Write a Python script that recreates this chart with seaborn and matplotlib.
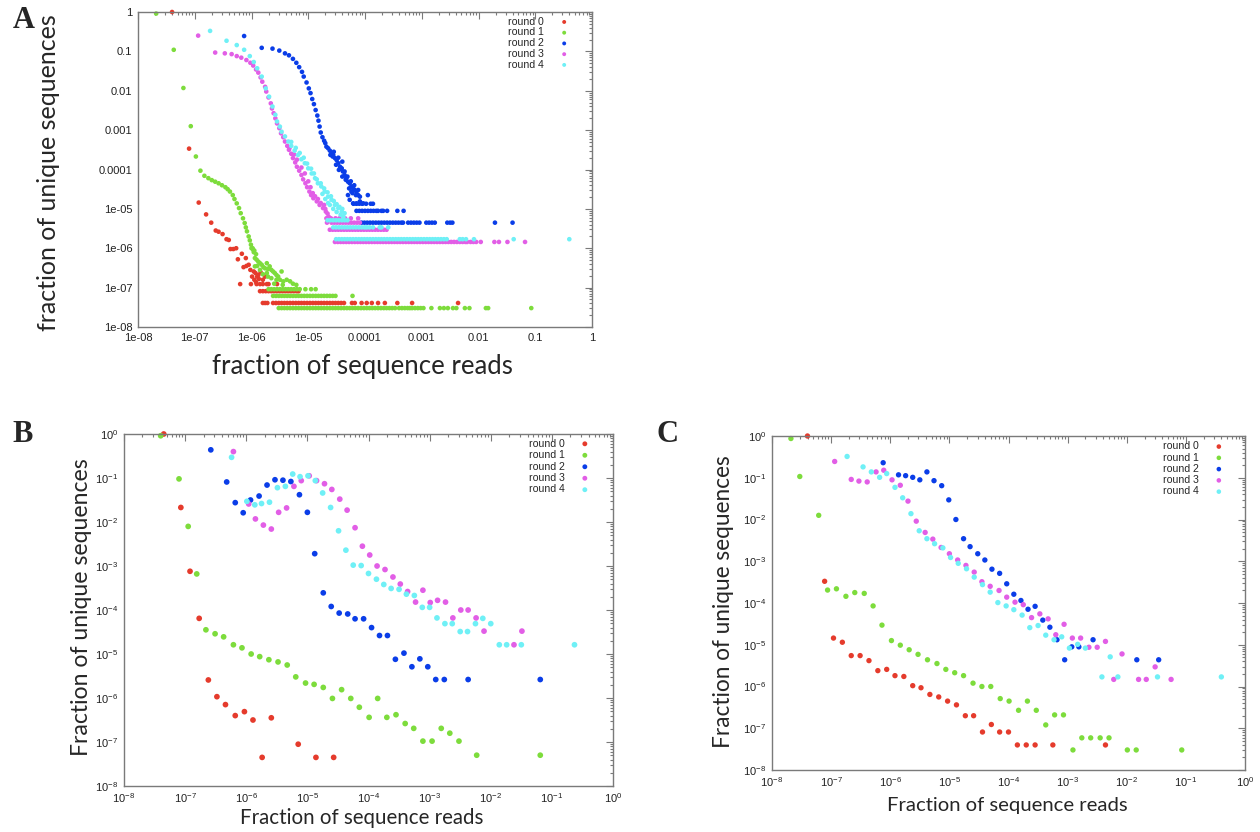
import numpy as np
import pandas as pd
import matplotlib
matplotlib.use("Agg")
import matplotlib.pyplot as plt
import seaborn as sns
from matplotlib.ticker import LogLocator, NullFormatter, FixedLocator

# ---------------------------------------------------------------- data
# all values are log10 of the plotted quantity
ROUNDS = ["round 0", "round 1", "round 2", "round 3", "round 4"]
COLORS = ["#e53b2c", "#7ddc3c", "#0a3de8", "#e25ee6", "#6ff0f6"]

A_XTICK_LABELS = ["1e-08", "1e-07", "1e-06", "1e-05", "0.0001", "0.001", "0.01", "0.1", "1"]
BC_TICK_LABELS = [r"$10^{-8}$", r"$10^{-7}$", r"$10^{-6}$", r"$10^{-5}$", r"$10^{-4}$",
                  r"$10^{-3}$", r"$10^{-2}$", r"$10^{-1}$", r"$10^{0}$"]
TICK_EXPONENTS = [-8, -7, -6, -5, -4, -3, -2, -1, 0]

# ---- panel A (isolated points as (log x, log y); horizontal rows as (log y, [log x ...]))
A_ROUND0_PTS = [(-7.40, 0.00), (-7.10, -3.47), (-6.93, -4.84), (-6.80, -5.14), (-6.71, -5.35),
                (-6.63, -5.55), (-6.58, -5.58), (-6.51, -5.64), (-6.44, -5.77), (-6.40, -5.79),
                (-6.37, -6.02), (-6.32, -6.02), (-6.27, -6.00), (-6.24, -6.28), (-6.17, -6.14),
                (-6.14, -6.48), (-6.10, -6.25), (-6.09, -6.45), (-6.05, -6.42), (-6.02, -6.55),
                (-5.99, -6.72), (-5.96, -6.59), (-5.95, -6.80), (-5.93, -6.63), (-5.92, -6.86),
                (-5.90, -6.72), (-5.88, -6.68), (-5.87, -6.78), (-5.84, -6.61), (-5.80, -6.80),
                (-5.76, -6.72)]
A_ROUND0_ROWS = [
    (-7.39, [-5.80, -5.76, -5.72, -5.62, -5.57, -5.52, -5.47, -5.42, -5.37, -5.32, -5.27, -5.22,
             -5.17, -5.12, -5.07, -5.02, -4.97, -4.92, -4.87, -4.82, -4.77, -4.72, -4.67, -4.62,
             -4.57, -4.52, -4.47, -4.42, -4.37, -4.23, -4.18, -4.06, -3.97, -3.88, -3.77, -3.65,
             -3.43, -3.17, -2.36]),
    (-7.09, [-5.85, -5.80, -5.75, -5.70, -5.65, -5.60, -5.55, -5.50, -5.45, -5.40, -5.35, -5.30,
             -5.25, -5.20, -5.17]),
    (-6.91, [-6.20, -6.01, -5.91, -5.85, -5.80, -5.73, -5.70, -5.55]),
]

A_ROUND1_PTS = [(-7.68, -0.04), (-7.37, -0.96), (-7.20, -1.93), (-7.07, -2.90), (-6.98, -3.67),
                (-6.90, -4.03), (-6.83, -4.16), (-6.76, -4.22), (-6.70, -4.27), (-6.64, -4.31),
                (-6.58, -4.35), (-6.52, -4.40), (-6.46, -4.45), (-6.42, -4.50), (-6.38, -4.56),
                (-6.33, -4.65), (-6.30, -4.75), (-6.26, -4.86), (-6.22, -4.98), (-6.19, -5.11),
                (-6.15, -5.24), (-6.12, -5.36), (-6.10, -5.47), (-6.08, -5.57), (-6.05, -5.70),
                (-6.03, -5.80), (-6.01, -5.91), (-5.98, -6.00), (-5.95, -6.06), (-6.00, -6.00),
                (-5.97, -6.04), (-5.94, -6.25), (-5.91, -6.29), (-5.88, -6.34), (-5.85, -6.38),
                (-5.94, -6.46), (-5.82, -6.42), (-5.79, -6.48), (-5.76, -6.51), (-5.73, -6.38),
                (-5.71, -6.53), (-5.68, -6.46), (-5.65, -6.55), (-5.62, -6.59), (-5.59, -6.63),
                (-5.56, -6.68), (-5.71, -6.72), (-5.65, -6.76), (-5.53, -6.72), (-5.50, -6.80),
                (-5.47, -6.59), (-5.44, -6.84), (-5.38, -6.80), (-5.32, -6.84), (-5.27, -6.90),
                (-5.21, -6.93), (-5.73, -6.63), (-5.56, -6.80), (-5.85, -6.55), (-5.80, -6.66),
                (-5.90, -6.45), (-5.60, -6.90), (-5.45, -6.93), (-5.96, -6.10), (-5.92, -6.15)]
A_ROUND1_ROWS = [
    (-7.04, [-5.70, -5.65, -5.60, -5.55, -5.50, -5.45, -5.40, -5.35, -5.30, -5.25, -5.20, -5.15,
             -5.05, -4.95, -4.87]),
    (-7.21, [-5.62, -5.57, -5.52, -5.47, -5.42, -5.37, -5.32, -5.27, -5.22, -5.17, -5.12, -5.07,
             -5.02, -4.97, -4.92, -4.87, -4.82, -4.77, -4.72, -4.67, -4.62, -4.57, -4.52, -4.22]),
    (-7.52, [-5.52, -5.47, -5.42, -5.37, -5.32, -5.27, -5.22, -5.17, -5.12, -5.07, -5.02, -4.97,
             -4.92, -4.87, -4.82, -4.77, -4.72, -4.67, -4.62, -4.57, -4.52, -4.47, -4.42, -4.37,
             -4.32, -4.27, -4.22, -4.17, -4.12, -4.07, -4.02, -3.97, -3.92, -3.87, -3.82, -3.77,
             -3.72, -3.67, -3.62, -3.57, -3.52, -3.47, -3.40, -3.35, -3.30, -3.25, -3.21, -3.17,
             -3.12, -3.07, -3.02, -2.97, -2.83, -2.68, -2.61, -2.54, -2.45, -2.39, -2.24, -2.16,
             -1.87, -1.83, -1.07]),
]

A_ROUND2_PTS = [(-6.13, -0.61), (-5.82, -0.91), (-5.63, -0.93), (-5.51, -0.98), (-5.41, -1.05),
                (-5.34, -1.10), (-5.27, -1.19), (-5.21, -1.29), (-5.16, -1.40), (-5.11, -1.52),
                (-5.08, -1.64), (-5.03, -1.79), (-4.99, -1.94), (-4.96, -2.06), (-4.93, -2.21),
                (-4.90, -2.34), (-4.87, -2.49), (-4.84, -2.63), (-4.82, -2.76), (-4.80, -2.91),
                (-4.78, -3.06), (-4.75, -3.18), (-4.72, -3.27), (-4.70, -3.33), (-4.68, -3.42),
                (-4.65, -3.46), (-4.62, -3.52), (-4.59, -3.59), (-4.61, -3.63), (-4.56, -3.63),
                (-4.53, -3.71), (-4.57, -3.67), (-4.50, -3.76), (-4.47, -3.84), (-4.51, -3.88),
                (-4.44, -3.93), (-4.41, -3.97), (-4.46, -4.01), (-4.39, -4.05), (-4.36, -4.14),
                (-4.40, -4.18), (-4.33, -4.22), (-4.30, -4.31), (-4.34, -4.26), (-4.27, -4.35),
                (-4.24, -4.43), (-4.28, -4.48), (-4.21, -4.48), (-4.18, -4.52), (-4.22, -4.60),
                (-4.15, -4.56), (-4.12, -4.65), (-4.09, -4.69), (-4.16, -4.65), (-3.95, -4.65),
                (-4.30, -4.65), (-4.27, -4.77), (-4.21, -4.86), (-4.15, -4.86), (-4.09, -4.81),
                (-4.03, -4.86), (-3.86, -4.87), (-4.36, -4.05), (-4.31, -4.18), (-4.25, -4.30),
                (-4.40, -3.80), (-4.47, -3.70), (-4.55, -3.55), (-4.24, -4.56), (-4.19, -4.40),
                (-4.12, -4.52)]
A_ROUND2_ROWS = [
    (-5.05, [-4.15, -4.10, -4.05, -4.00, -3.95, -3.90, -3.85, -3.80, -3.77, -3.71, -3.68, -3.61,
             -3.43, -3.32]),
    (-5.35, [-4.06, -4.01, -3.96, -3.91, -3.86, -3.81, -3.76, -3.71, -3.66, -3.61, -3.56, -3.51,
             -3.46, -3.41, -3.36, -3.33, -3.24, -3.19, -3.14, -3.09, -3.04, -2.92, -2.87, -2.82,
             -2.77, -2.55, -2.50, -2.46, -1.71, -1.40]),
    (-4.87, [-4.20, -4.15, -4.10, -4.05, -3.98, -3.90]),
]

A_ROUND3_PTS = [(-6.94, -0.60), (-6.64, -1.03), (-6.47, -1.05), (-6.35, -1.07), (-6.26, -1.12),
                (-6.18, -1.16), (-6.09, -1.22), (-6.02, -1.29), (-5.97, -1.36), (-5.92, -1.46),
                (-5.88, -1.54), (-5.84, -1.66), (-5.81, -1.77), (-5.76, -1.90), (-5.74, -2.02),
                (-5.70, -2.17), (-5.66, -2.32), (-5.64, -2.45), (-5.61, -2.57), (-5.58, -2.70),
                (-5.55, -2.83), (-5.51, -2.95), (-5.48, -3.08), (-5.44, -3.18), (-5.41, -3.29),
                (-5.37, -3.40), (-5.34, -3.50), (-5.30, -3.60), (-5.27, -3.71), (-5.23, -3.82),
                (-5.20, -3.93), (-5.16, -4.03), (-5.12, -4.14), (-5.09, -4.25), (-5.05, -4.35),
                (-5.02, -4.45), (-4.98, -4.56), (-4.95, -4.65), (-4.91, -4.73), (-4.85, -4.81),
                (-4.80, -4.90), (-4.74, -4.98), (-4.69, -5.07), (-5.33, -3.45), (-5.25, -3.62),
                (-5.20, -3.75), (-5.12, -3.95), (-5.06, -4.10), (-5.00, -4.30), (-4.96, -4.45),
                (-4.92, -4.60), (-4.88, -4.68), (-4.83, -4.75), (-4.78, -4.85), (-4.72, -4.90),
                (-4.70, -5.00), (-4.66, -5.12), (-4.64, -5.20), (-4.67, -5.35)]
A_ROUND3_ROWS = [
    (-5.84, [-4.53, -4.48, -4.43, -4.38, -4.33, -4.28, -4.23, -4.18, -4.13, -4.08, -4.03, -3.98,
             -3.93, -3.88, -3.83, -3.78, -3.73, -3.68, -3.63, -3.58, -3.53, -3.48, -3.43, -3.38,
             -3.33, -3.28, -3.23, -3.18, -3.13, -3.08, -3.03, -2.98, -2.93, -2.88, -2.83, -2.78,
             -2.73, -2.68, -2.63, -2.58, -2.53, -2.48, -2.43, -2.38, -2.33, -2.28, -2.23, -2.20,
             -2.14, -2.09, -2.04, -1.96, -1.72, -1.64, -1.49, -1.18]),
    (-5.53, [-4.62, -4.57, -4.52, -4.47, -4.42, -4.37, -4.32, -4.27, -4.22, -4.17, -4.12, -4.07,
             -4.02, -3.97, -3.92, -3.87, -3.82, -3.77, -3.72, -3.67, -3.62]),
    (-5.35, [-4.59, -4.54, -4.49, -4.44, -4.39, -4.34, -4.29, -4.24, -4.19, -4.14, -4.09]),
    (-5.24, [-4.68, -4.60, -4.52, -4.45, -4.35, -4.25, -4.12]),
]

A_ROUND4_PTS = [(-6.73, -0.48), (-6.44, -0.73), (-6.26, -0.84), (-6.13, -0.96), (-6.03, -1.12),
                (-5.96, -1.27), (-5.90, -1.43), (-5.82, -1.64), (-5.75, -1.94), (-5.69, -2.15),
                (-5.63, -2.40), (-5.58, -2.61), (-5.55, -2.78), (-5.50, -2.91), (-5.47, -3.04),
                (-5.41, -3.16), (-5.35, -3.29), (-5.30, -3.40), (-5.24, -3.52), (-5.18, -3.63),
                (-5.12, -3.74), (-5.06, -3.84), (-5.00, -3.97), (-4.94, -4.10), (-4.88, -4.22),
                (-4.83, -4.35), (-4.77, -4.43), (-4.71, -4.56), (-4.65, -4.69), (-4.59, -4.77),
                (-4.53, -4.90), (-4.47, -4.98), (-4.41, -5.07), (-4.36, -5.11), (-5.30, -3.30),
                (-5.22, -3.45), (-5.15, -3.58), (-5.08, -3.70), (-5.02, -3.85), (-4.95, -3.98),
                (-4.90, -4.10), (-4.85, -4.25), (-4.78, -4.35), (-4.72, -4.48), (-4.66, -4.58),
                (-4.60, -4.68), (-4.55, -4.80), (-4.50, -4.88), (-4.45, -4.95), (-4.62, -4.90),
                (-4.56, -5.00), (-4.50, -5.08), (-4.43, -5.15), (-4.38, -5.20), (-4.70, -4.75),
                (-4.65, -4.85), (-4.75, -4.62), (-4.40, -5.00)]
A_ROUND4_ROWS = [
    (-5.77, [-4.51, -4.46, -4.41, -4.36, -4.31, -4.26, -4.21, -4.16, -4.11, -4.06, -4.01, -3.96,
             -3.91, -3.86, -3.81, -3.76, -3.71, -3.66, -3.61, -3.56, -3.51, -3.46, -3.41, -3.36,
             -3.31, -3.26, -3.21, -3.16, -3.11, -3.06, -3.01, -2.96, -2.91, -2.86, -2.81, -2.76,
             -2.71, -2.66, -2.61, -2.56, -2.33, -2.28, -2.22, -2.08, -1.38, -0.40]),
    (-5.47, [-4.56, -4.51, -4.46, -4.41, -4.36, -4.31, -4.26, -4.21, -4.16, -4.11, -4.06, -4.01,
             -3.97, -3.92, -3.86, -3.74, -3.71, -3.59]),
    (-5.29, [-4.66, -4.61, -4.56, -4.51, -4.46, -4.41, -4.36, -4.31]),
]

# ---- panel B (log x, log y)
B_ROUND0 = [(-7.35, 0.00), (-7.07, -1.67), (-6.92, -3.12), (-6.77, -4.19), (-6.62, -5.59),
            (-6.48, -5.97), (-6.34, -6.15), (-6.18, -6.40), (-6.03, -6.31), (-5.89, -6.50),
            (-5.59, -6.45), (-5.74, -7.35), (-5.15, -7.05), (-4.86, -7.35), (-4.57, -7.35)]
B_ROUND1 = [(-7.40, -0.04), (-7.10, -1.02), (-6.95, -2.10), (-6.81, -3.18), (-6.66, -4.45),
            (-6.51, -4.54), (-6.37, -4.61), (-6.21, -4.79), (-6.07, -4.86), (-5.92, -5.00),
            (-5.78, -5.06), (-5.63, -5.13), (-5.48, -5.18), (-5.33, -5.25), (-5.19, -5.52),
            (-5.03, -5.66), (-4.89, -5.69), (-4.74, -5.76), (-4.59, -6.01), (-4.44, -5.81),
            (-4.29, -6.01), (-4.15, -6.21), (-3.99, -6.44), (-3.85, -6.01), (-3.70, -6.44),
            (-3.55, -6.38), (-3.40, -6.58), (-3.26, -6.69), (-3.11, -6.98), (-2.96, -6.98),
            (-2.81, -6.69), (-2.67, -6.80), (-2.52, -6.98), (-2.23, -7.30), (-1.19, -7.30)]
B_ROUND2 = [(-6.58, -0.36), (-6.32, -1.09), (-6.18, -1.56), (-6.05, -1.79), (-5.93, -1.50),
            (-5.79, -1.41), (-5.66, -1.16), (-5.53, -1.04), (-5.40, -1.05), (-5.27, -1.08),
            (-5.13, -1.38), (-5.00, -1.78), (-4.88, -2.72), (-4.74, -3.61), (-4.61, -3.92),
            (-4.48, -4.07), (-4.34, -4.09), (-4.22, -4.20), (-4.08, -4.20), (-3.95, -4.40),
            (-3.82, -4.58), (-3.69, -4.58), (-3.56, -5.12), (-3.42, -4.98), (-3.29, -5.29),
            (-3.16, -5.11), (-3.03, -5.29), (-2.90, -5.58), (-2.76, -5.58), (-2.37, -5.58),
            (-1.19, -5.58)]
B_ROUND3 = [(-6.21, -0.40), (-5.96, -1.59), (-5.85, -1.93), (-5.72, -2.07), (-5.59, -2.16),
            (-5.47, -1.78), (-5.34, -1.68), (-5.22, -1.19), (-5.10, -1.06), (-4.97, -0.95),
            (-4.85, -1.06), (-4.72, -1.13), (-4.60, -1.26), (-4.47, -1.48), (-4.35, -1.73),
            (-4.22, -2.13), (-4.10, -2.55), (-3.98, -2.75), (-3.86, -3.00), (-3.73, -3.08),
            (-3.60, -3.25), (-3.48, -3.41), (-3.36, -3.58), (-3.23, -3.82), (-3.11, -3.55),
            (-2.99, -3.83), (-2.87, -3.78), (-2.74, -3.82), (-2.62, -4.18), (-2.49, -4.00),
            (-2.37, -4.00), (-2.24, -4.18), (-2.11, -4.48), (-1.62, -4.79), (-1.49, -4.48)]
B_ROUND4 = [(-6.24, -0.53), (-5.99, -1.53), (-5.86, -1.61), (-5.75, -1.58), (-5.62, -1.55),
            (-5.49, -1.22), (-5.36, -1.19), (-5.24, -0.91), (-5.12, -0.97), (-4.99, -0.95),
            (-4.87, -1.06), (-4.75, -1.34), (-4.62, -1.67), (-4.49, -2.20), (-4.37, -2.64),
            (-4.25, -2.98), (-4.12, -2.99), (-4.00, -3.17), (-3.87, -3.30), (-3.75, -3.42),
            (-3.63, -3.51), (-3.50, -3.53), (-3.38, -3.64), (-3.25, -3.67), (-3.12, -3.94),
            (-3.00, -3.94), (-2.88, -4.18), (-2.75, -4.31), (-2.63, -4.31), (-2.50, -4.49),
            (-2.38, -4.49), (-2.25, -4.31), (-2.13, -4.19), (-2.00, -4.31), (-1.86, -4.79),
            (-1.74, -4.79), (-1.50, -4.79), (-0.63, -4.79)]

# ---- panel C (log x, log y)
C_ROUND0 = [(-7.40, 0.00), (-7.11, -3.48), (-6.96, -4.84), (-6.81, -4.94), (-6.66, -5.26),
            (-6.51, -5.26), (-6.36, -5.38), (-6.21, -5.62), (-6.06, -5.59), (-5.92, -5.74),
            (-5.77, -5.76), (-5.62, -5.98), (-5.48, -6.03), (-5.33, -6.19), (-5.18, -6.25),
            (-5.03, -6.35), (-4.88, -6.44), (-4.73, -6.70), (-4.59, -6.70), (-4.44, -7.09),
            (-4.29, -6.91), (-4.15, -7.09), (-4.00, -7.09), (-3.85, -7.40), (-3.70, -7.40),
            (-3.55, -7.40), (-3.25, -7.40), (-2.36, -7.40)]
C_ROUND1 = [(-7.68, -0.06), (-7.53, -0.97), (-7.21, -1.90), (-7.06, -3.69), (-6.91, -3.66),
            (-6.75, -3.84), (-6.60, -3.75), (-6.44, -3.77), (-6.29, -4.07), (-6.14, -4.53),
            (-5.98, -4.90), (-5.83, -5.01), (-5.68, -5.12), (-5.53, -5.23), (-5.37, -5.36),
            (-5.21, -5.45), (-5.06, -5.59), (-4.91, -5.67), (-4.76, -5.74), (-4.60, -5.92),
            (-4.45, -6.00), (-4.30, -6.00), (-4.14, -6.29), (-3.99, -6.35), (-3.83, -6.57),
            (-3.68, -6.35), (-3.53, -6.57), (-3.37, -6.92), (-3.22, -6.68), (-3.07, -6.68),
            (-2.91, -7.52), (-2.76, -7.23), (-2.61, -7.23), (-2.45, -7.23), (-2.30, -7.23),
            (-1.99, -7.52), (-1.84, -7.52), (-1.07, -7.52)]
C_ROUND2 = [(-6.12, -0.64), (-5.86, -0.93), (-5.74, -0.95), (-5.62, -0.99), (-5.50, -1.05),
            (-5.38, -0.86), (-5.26, -1.07), (-5.13, -1.19), (-5.01, -1.53), (-4.89, -2.00),
            (-4.76, -2.46), (-4.65, -2.65), (-4.52, -2.82), (-4.40, -2.97), (-4.28, -3.19),
            (-4.15, -3.29), (-4.03, -3.54), (-3.91, -3.79), (-3.79, -3.94), (-3.67, -4.15),
            (-3.55, -4.08), (-3.42, -4.41), (-3.30, -4.58), (-3.18, -4.88), (-3.05, -5.36),
            (-2.93, -5.05), (-2.81, -5.05), (-2.57, -4.88), (-1.83, -5.36), (-1.46, -5.36)]
C_ROUND3 = [(-6.94, -0.61), (-6.66, -1.04), (-6.53, -1.08), (-6.39, -1.10), (-6.24, -0.86),
            (-6.11, -0.82), (-5.97, -1.05), (-5.83, -1.18), (-5.70, -1.56), (-5.56, -2.04),
            (-5.41, -2.31), (-5.28, -2.47), (-5.14, -2.67), (-5.00, -2.82), (-4.86, -2.97),
            (-4.72, -3.10), (-4.58, -3.26), (-4.45, -3.49), (-4.31, -3.60), (-4.16, -3.70),
            (-4.03, -3.86), (-3.89, -3.98), (-3.75, -4.04), (-3.61, -4.35), (-3.47, -4.26),
            (-3.33, -4.38), (-3.20, -4.76), (-3.06, -4.51), (-2.92, -4.84), (-2.78, -4.84),
            (-2.64, -5.06), (-2.50, -5.06), (-2.36, -4.92), (-2.08, -5.22), (-2.22, -5.83),
            (-1.80, -5.83), (-1.67, -5.83), (-1.52, -5.53), (-1.25, -5.83)]
C_ROUND4 = [(-6.73, -0.49), (-6.46, -0.74), (-6.32, -0.86), (-6.18, -0.99), (-6.06, -0.90),
            (-5.92, -1.23), (-5.79, -1.48), (-5.65, -1.86), (-5.51, -2.27), (-5.38, -2.46),
            (-5.25, -2.58), (-5.11, -2.68), (-4.98, -2.91), (-4.85, -3.05), (-4.71, -3.18),
            (-4.58, -3.38), (-4.44, -3.56), (-4.31, -3.74), (-4.18, -3.99), (-4.04, -4.07),
            (-3.91, -4.16), (-3.77, -4.29), (-3.64, -4.59), (-3.50, -4.54), (-3.37, -4.77),
            (-3.23, -4.88), (-3.10, -4.81), (-2.97, -5.08), (-2.83, -4.99), (-2.70, -5.08),
            (-2.42, -5.77), (-2.28, -5.29), (-2.15, -5.77), (-1.48, -5.77), (-0.40, -5.77)]


# ---------------------------------------------------------------- helpers
def frame(points, rows=()):
    lx = [p[0] for p in points]
    ly = [p[1] for p in points]
    for row_y, row_xs in rows:
        lx.extend(row_xs)
        ly.extend([row_y] * len(row_xs))
    return pd.DataFrame({"x": 10.0 ** np.array(lx), "y": 10.0 ** np.array(ly)})


W, H = 1260, 832


def rect(left, top, right, bottom):
    return [left / W, 1 - bottom / H, (right - left) / W, (bottom - top) / H]


sns.set_theme(style="white")
plt.rcParams["font.family"] = ["Liberation Sans", "DejaVu Sans"]
plt.rcParams["mathtext.fontset"] = "custom"
plt.rcParams["mathtext.rm"] = "Liberation Sans"
plt.rcParams["mathtext.it"] = "Liberation Sans"

fig = plt.figure(figsize=(W / 100, H / 100), dpi=100, facecolor="white")

FRAME_COLOR = "#7a7a7a"
TICK_TEXT = "#222222"


def style_axes(ax, labels, fontsize):
    ax.set_xscale("log")
    ax.set_yscale("log")
    ax.set_xlim(1e-8, 1)
    ax.set_ylim(1e-8, 1)
    ticks = [10.0 ** e for e in TICK_EXPONENTS]
    ax.xaxis.set_major_locator(FixedLocator(ticks))
    ax.yaxis.set_major_locator(FixedLocator(ticks))
    ax.set_xticklabels(labels)
    ax.set_yticklabels(labels)
    for axis in (ax.xaxis, ax.yaxis):
        axis.set_minor_locator(LogLocator(base=10, subs=np.arange(2, 10), numticks=100))
        axis.set_minor_formatter(NullFormatter())
    ax.tick_params(which="both", direction="in", top=True, right=True,
                   color=FRAME_COLOR, width=0.8)
    ax.tick_params(which="major", length=5, labelsize=fontsize, labelcolor=TICK_TEXT, pad=4)
    ax.tick_params(which="minor", length=2.5)
    for s in ax.spines.values():
        s.set_color(FRAME_COLOR)
        s.set_linewidth(1.0)
    ax.set_xlabel("")
    ax.set_ylabel("")


def draw(ax, frames, size, legend_anchor, spacing):
    ax.set_xscale("log")
    ax.set_yscale("log")
    for name, color, df in zip(ROUNDS, COLORS, frames):
        sns.scatterplot(data=df, x="x", y="y", color=color, s=size, linewidth=0,
                        edgecolor="none", label=name, ax=ax, clip_on=False)
    ax.legend(loc="upper right", bbox_to_anchor=legend_anchor, frameon=False,
              markerfirst=False, fontsize=7.6, handlelength=2.0, handletextpad=0.9,
              borderpad=0.0, borderaxespad=0.0, labelspacing=spacing, markerscale=0.85)


LABEL_FONT = ["Lato", "DejaVu Sans"]

# ---- panel A
axA = fig.add_axes(rect(138, 12, 592, 327))
draw(axA, [frame(A_ROUND0_PTS, A_ROUND0_ROWS), frame(A_ROUND1_PTS, A_ROUND1_ROWS),
           frame(A_ROUND2_PTS, A_ROUND2_ROWS), frame(A_ROUND3_PTS, A_ROUND3_ROWS),
           frame(A_ROUND4_PTS, A_ROUND4_ROWS)], 11, (0.962, 0.985), 0.07)
style_axes(axA, A_XTICK_LABELS, 8)

# ---- panel B
axB = fig.add_axes(rect(124, 434, 613, 786))
draw(axB, [frame(B_ROUND0), frame(B_ROUND1), frame(B_ROUND2), frame(B_ROUND3), frame(B_ROUND4)],
     17, (0.964, 0.987), 0.14)
style_axes(axB, BC_TICK_LABELS, 8)

# ---- panel C
axC = fig.add_axes(rect(772, 436, 1245, 770))
draw(axC, [frame(C_ROUND0), frame(C_ROUND1), frame(C_ROUND2), frame(C_ROUND3), frame(C_ROUND4)],
     15, (0.967, 0.984), 0.12)
style_axes(axC, BC_TICK_LABELS, 8)


def ftext(px, py, s, **kw):
    fig.text(px / W, 1 - py / H, s, ha="center", va="center", **kw)


ftext(362, 367, "fraction of sequence reads", fontsize=18.5, family=LABEL_FONT)
ftext(48, 173, "fraction of unique sequences", fontsize=18, family=LABEL_FONT, rotation=90)
ftext(362, 818, "Fraction of sequence reads", fontsize=14.8, family=LABEL_FONT)
ftext(82, 607, "Fraction of unique sequences", fontsize=16.6, family=LABEL_FONT, rotation=90)
ftext(1007, 805, "Fraction of sequence reads", fontsize=14.6, family=LABEL_FONT)
ftext(724, 602, "Fraction of unique sequences", fontsize=16.3, family=LABEL_FONT, rotation=90)

for letter, px, py in [("A", 24, 20), ("B", 23, 435), ("C", 667, 434)]:
    ftext(px, py, letter, fontsize=22, fontweight="bold",
          family=["Liberation Serif", "DejaVu Serif"])

fig.savefig("out.png", dpi=100, facecolor="white")
